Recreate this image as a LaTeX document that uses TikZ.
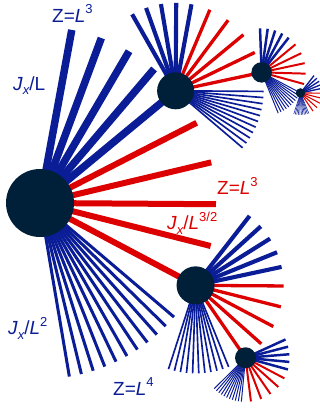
\documentclass[tikz,border=0pt]{standalone}
\usepackage{fontspec}
\setmainfont{Liberation Sans}
\definecolor{hubblue}{RGB}{10,28,150}
\definecolor{hubred}{RGB}{220,0,0}
\definecolor{hubnavy}{RGB}{0,32,58}
\tikzset{
  thickb/.style={draw=hubblue,line width={7.5pt*#1}},
  redb/.style={draw=hubred,line width={6pt*#1}},
  thinb/.style={draw=hubblue,line width={3pt*#1}},
  hubdot/.style={circle,fill=hubnavy,inner sep=0pt,minimum size=#1},
  lab/.style={anchor=base west,inner sep=0pt,font=\fontsize{19}{19}\selectfont},
}
\newcommand\supx[1]{\raisebox{0.45em}{\fontsize{13}{13}\selectfont #1}}
\newcommand\subx[1]{\raisebox{-0.22em}{\fontsize{13}{13}\selectfont\itshape #1}}
% #1 centre, #2 rotation, #3 length, #4 width factor, #5 thick angles, #6 red angles, #7 thin angles
\newcommand\hubfan[7]{%
  \foreach \a in {#5} \draw[thickb=#4] (#1) -- ++({\a+(#2)}:#3);
  \foreach \a in {#6} \draw[redb=#4] (#1) -- ++({\a+(#2)}:#3);
  \foreach \a in {#7} \draw[thinb=#4] (#1) -- ++({\a+(#2)}:#3);
}
\begin{document}
\begin{tikzpicture}[x=1pt,y=1pt]
\useasboundingbox (0,0) rectangle (320,410);
% hub centres
\coordinate (M) at (40,207);
\path (M) ++(39.6:176) coordinate (A);
\path (M) ++(-27.9:176) coordinate (B);
\path (A) ++(12.1:88) coordinate (A1);
\path (B) ++(-55.4:88) coordinate (C);
\path (A1) ++(-27.9:44) coordinate (A2);
% fans
\hubfan{M}{-0.4}{176}{1}{80,70,60,50}{27.5,13.75,0,-13.75}{-40,-44,...,-80}
\hubfan{A}{39.6}{88}{0.55}{80,70,60,50,40}{27.5,13.75,0,-13.75}{-40,-44,...,-80}
\hubfan{B}{-27.9}{88}{0.55}{80,70,60,50,40}{27.5,13.75,0,-13.75}{-40,-44,...,-80}
\hubfan{A1}{12.1}{44}{0.33}{80,70,60,50,40}{27.5,13.75,0,-13.75,-27.5}{-44,-48,...,-80}
\hubfan{C}{-55.4}{44}{0.33}{80,70,60,50,40}{27.5,13.75,0,-13.75,-27.5}{-40,-44,...,-80}
\hubfan{A2}{-27.9}{22}{0.18}{80,70,60,50,40}{27.5,13.75,0,-13.75,-27.5}{-40,-44,...,-80}
% connectors between hubs
\draw[thickb=1] (M) -- (A);
\draw[redb=1] (M) -- (B);
\draw[redb=0.55] (A) -- (A1);
\draw[redb=0.55] (B) -- (C);
\draw[thinb=0.33] (A1) -- (A2);
% hubs
\node[hubdot=68pt] (Mhub) at (M) {};
\node[hubdot=37pt] (Ahub) at (A) {};
\node[hubdot=38pt] (Bhub) at (B) {};
\node[hubdot=20.5pt] (A1hub) at (A1) {};
\node[hubdot=21pt] (Chub) at (C) {};
\node[hubdot=9.5pt] (A2hub) at (A2) {};
% labels
\node[lab,text=hubblue] (l1) at (52,387.5) {Z=\textit{L}\supx{3}};
\node[lab,text=hubblue] (l2) at (13,319.3) {\textit{J}\subx{x}/L};
\node[lab,text=hubred] (l3) at (217,215) {Z=\textit{L}\supx{3}};
\node[lab,text=hubred] (l4) at (167,180) {\textit{J}\subx{x}/\textit{L}\supx{3/2}};
\node[lab,text=hubblue] (l5) at (8,75) {\textit{J}\subx{x}/\textit{L}\supx{2}};
\node[lab,text=hubblue] (l6) at (113,15) {Z=\textit{L}\supx{4}};
\end{tikzpicture}
\end{document}
